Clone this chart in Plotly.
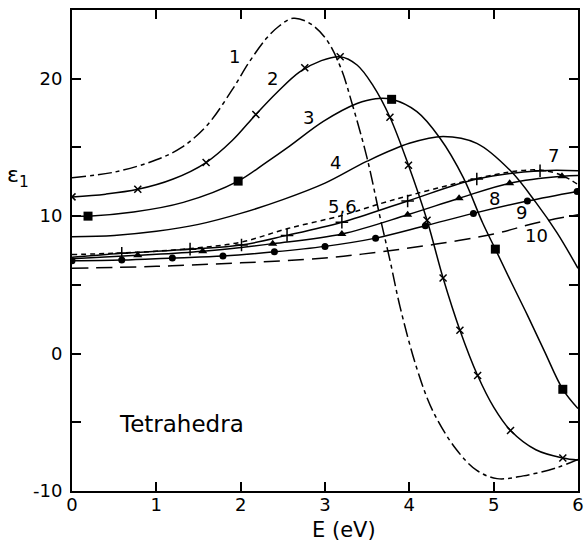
import plotly.graph_objects as go

# ---- data ----
E_c1 = [0, 0.5, 1.0, 1.3, 1.6, 1.9, 2.1, 2.3, 2.45, 2.62, 2.8, 3.0, 3.18, 3.33, 3.5, 3.65, 3.77, 3.89, 4.09, 4.28, 4.56, 4.8, 5.04, 5.35, 5.75, 6.0]
eps_c1 = [12.8, 13.2, 14.1, 15.0, 16.6, 19.2, 21.2, 22.9, 23.8, 24.4, 24.1, 23.0, 20.9, 18.0, 14.2, 10.0, 6.8, 3.4, -1.1, -4.2, -7.0, -8.5, -9.1, -8.9, -8.3, -7.7]

E_c2 = [0, 0.4, 0.78, 1.2, 1.59, 1.9, 2.18, 2.43, 2.7, 2.95, 3.18, 3.38, 3.57, 3.77, 3.99, 4.21, 4.4, 4.6, 4.81, 5.0, 5.2, 5.5, 5.82, 6.0]
eps_c2 = [11.4, 11.6, 11.95, 12.7, 13.9, 15.5, 17.4, 19.0, 20.5, 21.3, 21.6, 21.0, 19.5, 17.2, 13.7, 9.7, 5.5, 1.7, -1.6, -3.9, -5.6, -7.0, -7.6, -7.75]
E_m2 = [0, 0.78, 1.59, 2.18, 2.76, 3.18, 3.77, 3.99, 4.21, 4.4, 4.6, 4.81, 5.2, 5.82]
eps_m2 = [11.4, 11.95, 13.9, 17.4, 20.8, 21.6, 17.2, 13.7, 9.7, 5.5, 1.7, -1.6, -5.6, -7.6]

E_c3 = [0, 0.19, 0.73, 1.32, 1.97, 2.3, 2.58, 2.98, 3.38, 3.6, 3.79, 4.09, 4.36, 4.64, 4.87, 5.02, 5.2, 5.4, 5.6, 5.82, 6.0]
eps_c3 = [10.0, 10.0, 10.3, 11.0, 12.55, 13.9, 15.1, 16.9, 18.2, 18.55, 18.5, 17.6, 15.7, 12.8, 9.5, 7.6, 5.3, 2.8, 0.2, -2.6, -4.0]
E_m3 = [0.19, 1.97, 3.79, 5.02, 5.82]
eps_m3 = [10.0, 12.55, 18.5, 7.6, -2.6]

E_c4 = [0, 0.5, 1.0, 1.5, 2.0, 2.5, 3.0, 3.5, 4.0, 4.4, 4.8, 5.2, 5.5, 5.75, 6.0]
eps_c4 = [8.5, 8.6, 8.9, 9.4, 10.2, 11.2, 12.4, 14.0, 15.3, 15.8, 15.3, 13.3, 11.0, 8.8, 6.2]

E_c5 = [0, 0.5, 1.0, 1.5, 2.0, 2.56, 3.2, 3.65, 4.0, 4.5, 5.0, 5.3, 5.55, 5.8, 6.0]
eps_c5 = [7.2, 7.3, 7.45, 7.7, 8.1, 9.1, 10.05, 10.9, 11.5, 12.3, 13.0, 13.3, 13.35, 13.0, 12.3]

E_c6 = [0, 0.59, 1.4, 2.01, 2.55, 3.2, 3.98, 4.8, 5.55, 6.0]
eps_c6 = [7.0, 7.3, 7.6, 7.9, 8.6, 9.56, 11.1, 12.7, 13.3, 13.3]
E_m6 = [0.59, 1.4, 2.01, 2.55, 3.2, 3.98, 4.8, 5.55]
eps_m6 = [7.3, 7.6, 7.9, 8.6, 9.56, 11.1, 12.7, 13.3]

E_c8 = [0, 0.78, 1.55, 2.38, 3.2, 3.98, 4.59, 5.19, 5.81, 6.0]
eps_c8 = [6.9, 7.15, 7.45, 8.0, 8.7, 10.1, 11.3, 12.4, 12.9, 12.95]
E_m8 = [0.78, 1.55, 2.38, 3.2, 3.98, 4.59, 5.19, 5.81]
eps_m8 = [7.15, 7.45, 8.0, 8.7, 10.1, 11.3, 12.4, 12.9]

E_c9 = [0, 0.59, 1.19, 1.79, 2.4, 3.0, 3.6, 4.19, 4.76, 5.4, 5.99]
eps_c9 = [6.75, 6.8, 6.95, 7.1, 7.4, 7.8, 8.4, 9.3, 10.2, 11.1, 11.8]

E_c10 = [0, 1, 2, 3, 3.65, 4.3, 5.0, 5.5, 6.0]
eps_c10 = [6.2, 6.35, 6.6, 6.95, 7.4, 7.95, 8.7, 9.5, 10.1]

curve_labels = ["1", "2", "3", "4", "5,6", "7", "8", "9", "10"]
label_E = [1.93, 2.38, 2.80, 3.12, 3.21, 5.71, 5.01, 5.33, 5.51]
label_eps = [21.6, 20.0, 17.2, 13.9, 10.7, 14.4, 11.3, 10.3, 8.6]

x_ticks = [0, 1, 2, 3, 4, 5, 6]
y_ticks = [-10, 0, 10, 20]
y_minor_ticks = [-5, 5, 15]

FONT = "DejaVu Sans"
LW = 1.5

fig = go.Figure()

def line(x, y, dash="solid"):
    fig.add_trace(go.Scatter(x=x, y=y, mode="lines",
                             line=dict(color="black", width=LW, dash=dash, shape="spline", smoothing=1.0),
                             showlegend=False, hoverinfo="skip"))

def marks(x, y, symbol, size, lw=0):
    fig.add_trace(go.Scatter(x=x, y=y, mode="markers",
                             marker=dict(symbol=symbol, size=size, color="black",
                                         line=dict(color="black", width=lw)),
                             showlegend=False, hoverinfo="skip"))

line(E_c1, eps_c1, "14px,4px,4px,4px")
line(E_c2, eps_c2)
line(E_c3, eps_c3)
line(E_c4, eps_c4)
line(E_c5, eps_c5, "5px,4px")
line(E_c6, eps_c6)
line(E_c8, eps_c8)
line(E_c9, eps_c9)
line(E_c10, eps_c10, "16px,8px")

marks(E_m2, eps_m2, "x-thin", 7, 1.5)
marks(E_m3, eps_m3, "square", 9)
marks(E_m6, eps_m6, "cross-thin", 9, 1.5)
marks(E_m8, eps_m8, "triangle-up", 8)
marks(E_c9, eps_c9, "circle", 7)

for t, x, y in zip(curve_labels, label_E, label_eps):
    fig.add_annotation(x=x, y=y, text=t, showarrow=False,
                       font=dict(family=FONT, size=18, color="black"))

fig.add_annotation(x=1.30, y=-5.1, text="Tetrahedra", showarrow=False,
                   xanchor="center", yanchor="middle",
                   font=dict(family=FONT, size=23, color="black"))
fig.add_annotation(x=3.22, xref="x", y=-0.081, yref="paper", text="E (eV)", showarrow=False,
                   xanchor="center", yanchor="middle",
                   font=dict(family=FONT, size=21, color="black"))
fig.add_annotation(x=-0.107, xref="paper", y=12.9, yref="y", text="\u03b5<sub>1</sub>", showarrow=False,
                   xanchor="center", yanchor="middle",
                   font=dict(family=FONT, size=22, color="black"))

axis_common = dict(showline=True, linewidth=2, linecolor="black", mirror="ticks",
                   ticks="inside", ticklen=9, tickwidth=2, tickcolor="black",
                   showgrid=False, zeroline=False, automargin=False,
                   tickfont=dict(family=FONT, size=18, color="black"))

fig.update_xaxes(range=[0, 6], tickvals=x_ticks, ticktext=[str(v) for v in x_ticks],
                 ticklabelstandoff=-4, **axis_common)
fig.update_yaxes(range=[-10, 25], tickvals=y_ticks, ticktext=[str(v) for v in y_ticks],
                 minor=dict(tickvals=y_minor_ticks, ticks="inside", ticklen=9, tickwidth=2,
                            tickcolor="black", showgrid=False),
                 ticklabelstandoff=4, **axis_common)

fig.update_layout(width=584, height=541, margin=dict(l=72, r=6, t=10, b=50),
                  plot_bgcolor="white", paper_bgcolor="white", showlegend=False)

fig.write_html("out.html", config={"displayModeBar": False},
               post_script="document.body.style.margin='0';")
